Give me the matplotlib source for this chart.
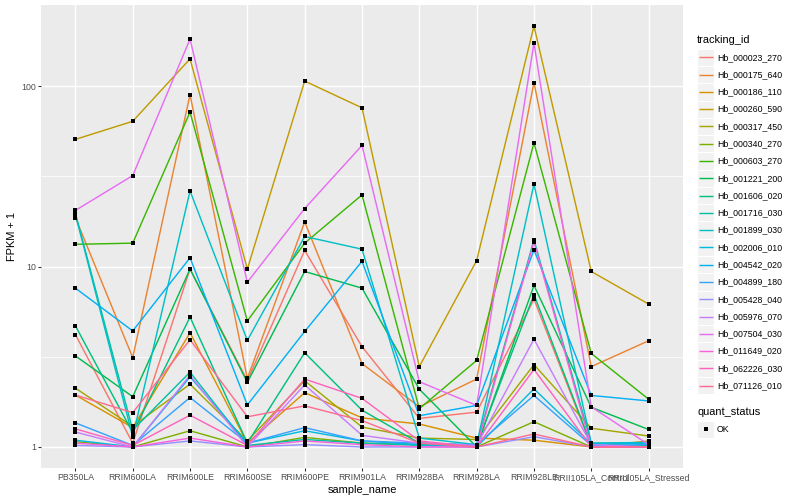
import matplotlib
matplotlib.use("Agg")
import matplotlib.pyplot as plt
from matplotlib.patches import Rectangle
import numpy as np

plt.rcParams['font.family'] = ['Liberation Sans', 'DejaVu Sans']

samples = ["PB350LA", "RRIM600LA", "RRIM600LE", "RRIM600SE", "RRIM600PE", "RRIM901LA",
           "RRIM928BA", "RRIM928LA", "RRIM928LE", "RRII105LA_Control", "RRII105LA_Stressed"]

tracking_ids = ["Hb_000023_270", "Hb_000175_640", "Hb_000186_110", "Hb_000260_590",
                "Hb_000317_450", "Hb_000340_270", "Hb_000603_270", "Hb_001221_200",
                "Hb_001606_020", "Hb_001716_030", "Hb_001899_030", "Hb_002006_010",
                "Hb_004542_020", "Hb_004899_180", "Hb_005428_040", "Hb_005976_070",
                "Hb_007504_030", "Hb_011649_020", "Hb_062226_030", "Hb_071126_010"]

colors = ["#F8766D", "#EA8331", "#D89000", "#C09B00", "#A3A500", "#7CAE00", "#39B600",
          "#00BB4E", "#00BF7D", "#00C1A3", "#00BFC4", "#00BAE0", "#00B0F6", "#35A2FF",
          "#9590FF", "#C77CFF", "#E76BF3", "#FA62DB", "#FF62BC", "#FF6C91"]

# FPKM + 1 values, one list per tracking_id (order of samples)
hb_000023_270 = [4.2, 1.05, 9.7, 2.33, 12.3, 3.6, 1.44, 1.56, 6.6, 1.01, 1.0]
hb_000175_640 = [18.7, 3.13, 90, 2.4, 17.7, 2.9, 1.67, 2.38, 105, 2.79, 3.88]
hb_000186_110 = [1.94, 1.28, 4.3, 1.05, 2.0, 1.45, 1.34, 1.12, 1.09, 1.0, 1.08]
hb_000260_590 = [50.8, 64, 142, 9.7, 107, 76, 2.79, 10.8, 216, 9.4, 6.2]
hb_000317_450 = [2.12, 1.3, 2.23, 1.08, 2.33, 1.29, 1.12, 1.1, 2.86, 1.27, 1.15]
hb_000340_270 = [1.07, 1.0, 1.23, 1.0, 1.13, 1.05, 1.03, 1.0, 1.38, 1.0, 1.0]
hb_000603_270 = [13.3, 13.5, 72, 5.0, 13.5, 25, 1.63, 3.02, 48.6, 3.3, 1.84]
hb_001221_200 = [3.2, 1.90, 9.7, 2.28, 9.4, 7.6, 2.09, 1.0, 7.87, 1.66, 1.25]
hb_001606_020 = [4.7, 1.2, 5.25, 1.05, 3.33, 1.60, 1.05, 1.02, 7.0, 1.02, 1.02]
hb_001716_030 = [19.8, 1.24, 2.6, 1.02, 1.10, 1.05, 1.02, 1.03, 14.1, 1.05, 1.04]
hb_001899_030 = [19.5, 1.14, 26.3, 3.9, 14.7, 12.5, 1.12, 1.03, 28.7, 1.05, 1.06]
hb_002006_010 = [1.09, 1.0, 2.45, 1.05, 1.23, 1.08, 1.03, 1.0, 2.1, 1.04, 1.05]
hb_004542_020 = [7.6, 4.4, 11.2, 1.71, 4.37, 10.7, 1.49, 1.70, 12.4, 1.93, 1.80]
hb_004899_180 = [1.36, 1.02, 1.88, 1.05, 1.28, 1.08, 1.05, 1.03, 1.93, 1.02, 1.03]
hb_005428_040 = [1.02, 1.0, 1.08, 1.0, 1.03, 1.0, 1.0, 1.0, 1.14, 1.0, 1.0]
hb_005976_070 = [1.21, 1.0, 2.5, 1.0, 2.21, 1.16, 1.05, 1.02, 3.96, 1.03, 1.0]
hb_007504_030 = [20.5, 32, 183, 8.2, 21, 47, 2.3, 1.70, 174, 1.67, 1.03]
hb_011649_020 = [1.05, 1.0, 1.12, 1.0, 1.08, 1.03, 1.0, 1.0, 13.7, 1.0, 1.0]
hb_062226_030 = [1.26, 1.02, 1.50, 1.02, 2.38, 1.86, 1.08, 1.0, 2.69, 1.0, 1.0]
hb_071126_010 = [1.94, 1.55, 3.93, 1.47, 1.69, 1.40, 1.05, 1.0, 1.18, 1.0, 1.0]

series = [hb_000023_270, hb_000175_640, hb_000186_110, hb_000260_590, hb_000317_450,
          hb_000340_270, hb_000603_270, hb_001221_200, hb_001606_020, hb_001716_030,
          hb_001899_030, hb_002006_010, hb_004542_020, hb_004899_180, hb_005428_040,
          hb_005976_070, hb_007504_030, hb_011649_020, hb_062226_030, hb_071126_010]

PT = 0.72  # points per pixel at dpi 100
W, H = 800, 500
fig = plt.figure(figsize=(8, 5), dpi=100)
fig.patch.set_facecolor('white')

L, R, T, B = 41, 683, 5, 468
ax = fig.add_axes([L / W, (H - B) / H, (R - L) / W, (B - T) / H])
ax.set_facecolor('#EBEBEB')
for s in ax.spines.values():
    s.set_visible(False)

x = np.arange(len(samples))
allv = np.array(series, dtype=float)
lo, hi = np.log10(allv.min()), np.log10(allv.max())
pad = 0.05 * (hi - lo)
ax.set_yscale('log')
ax.set_ylim(10 ** (lo - pad), 10 ** (hi + pad))
ax.set_xlim(-0.6, len(samples) - 0.4)

# grid
for v in [1, 10, 100]:
    ax.axhline(v, color='white', lw=1.42 * PT, zorder=0.5)
for v in [10 ** 0.5, 10 ** 1.5]:
    ax.axhline(v, color='white', lw=0.71 * PT, zorder=0.5)
for xi in x:
    ax.axvline(xi, color='white', lw=1.42 * PT, zorder=0.5)

for vals, c in zip(series, colors):
    ax.plot(x, vals, color=c, lw=1.42 * PT, zorder=2, solid_capstyle='butt')
for vals in series:
    ax.scatter(x, vals, marker='s', s=8, color='black', zorder=3, linewidths=0)

ax.set_yticks([1, 10, 100])
ax.set_yticklabels(['1', '10', '100'])
ax.yaxis.set_minor_locator(matplotlib.ticker.NullLocator())
ax.set_xticks(x)
ax.set_xticklabels(samples)
ax.tick_params(axis='both', length=2.75 * PT * 1.0, width=1.07 * PT, color='#333333',
               labelcolor='#4D4D4D', labelsize=8.8 * PT, pad=2.2 * PT)
ax.set_xlabel('sample_name', fontsize=11 * PT, color='black', labelpad=2.5)
ax.set_ylabel('FPKM + 1', fontsize=11 * PT, color='black', labelpad=3)

# legend in pixel coordinates
lax = fig.add_axes([690 / W, 0, 110 / W, 1])
lax.set_xlim(690, 800)
lax.set_ylim(500, 0)
lax.axis('off')
lax.text(697, 40, 'tracking_id', fontsize=11 * PT, va='center', ha='left')
ks = 17.28
y0 = 57.3
for i, (name, c) in enumerate(zip(tracking_ids, colors)):
    cy = y0 + i * ks
    lax.add_patch(Rectangle((697, cy - ks / 2), ks, ks, facecolor='#F2F2F2',
                            edgecolor='white', lw=0.8))
    lax.plot([698.5, 712.8], [cy, cy], color=c, lw=1.42 * PT, solid_capstyle='butt')
    lax.text(717, cy, name, fontsize=8.8 * PT, va='center', ha='left')

lax.text(697, 412.3, 'quant_status', fontsize=11 * PT, va='center', ha='left')
cy = 429.3
lax.add_patch(Rectangle((697, cy - ks / 2), ks, ks, facecolor='#F2F2F2',
                        edgecolor='white', lw=0.8))
lax.scatter([697 + ks / 2], [cy], marker='s', s=8, color='black', linewidths=0)
lax.text(717, cy, 'OK', fontsize=8.8 * PT, va='center', ha='left')

fig.savefig('out.png', dpi=100)
